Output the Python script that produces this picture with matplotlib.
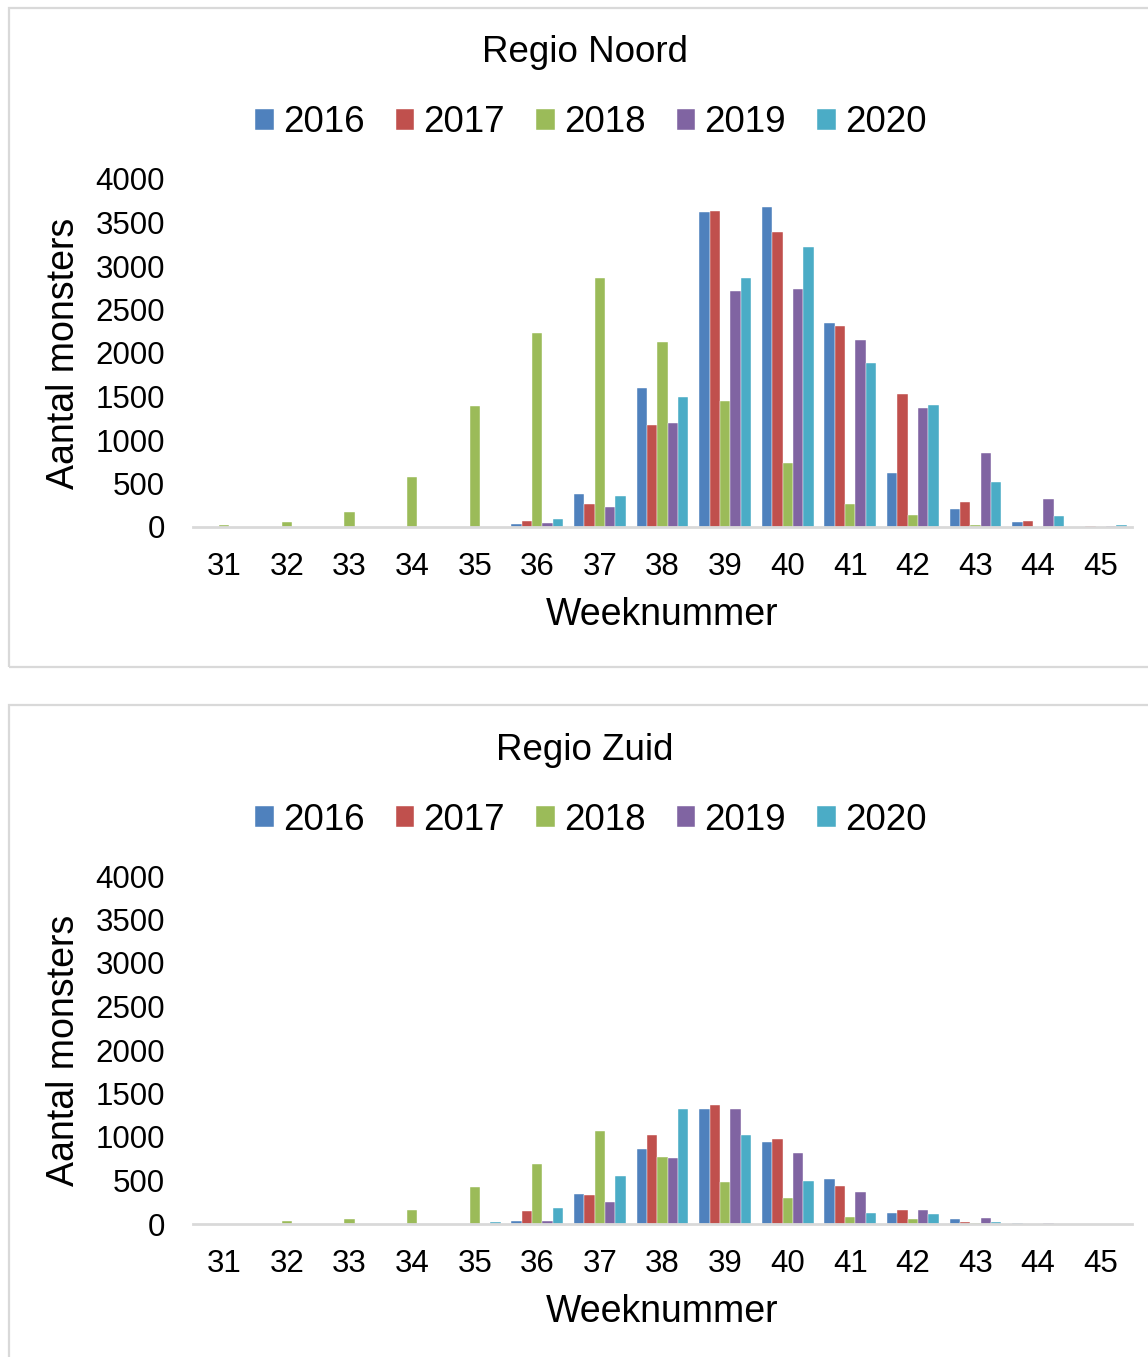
import numpy as np
import matplotlib
matplotlib.use("Agg")
import matplotlib.pyplot as plt
from matplotlib.patches import Rectangle

plt.rcParams['font.family'] = ['Liberation Sans', 'DejaVu Sans']

weeks = [31, 32, 33, 34, 35, 36, 37, 38, 39, 40, 41, 42, 43, 44, 45]
years = ['2016', '2017', '2018', '2019', '2020']
colors = ['#4F81BD', '#C0504D', '#9BBB59', '#8064A2', '#4BACC6']

# Regio Noord
noord_2016 = [0, 0, 0, 0, 0, 35, 375, 1595, 3615, 3675, 2350, 615, 205, 55, 0]
noord_2017 = [0, 0, 0, 0, 0, 65, 260, 1170, 3630, 3395, 2310, 1525, 290, 70, 15]
noord_2018 = [25, 55, 170, 570, 1390, 2235, 2865, 2125, 1450, 740, 265, 140, 25, 0, 0]
noord_2019 = [0, 0, 0, 0, 0, 50, 225, 1200, 2715, 2730, 2145, 1365, 850, 325, 12]
noord_2020 = [0, 0, 0, 0, 0, 95, 355, 1490, 2860, 3220, 1890, 1400, 515, 125, 25]

# Regio Zuid
zuid_2016 = [0, 0, 0, 0, 0, 30, 345, 860, 1320, 940, 515, 130, 57, 15, 0]
zuid_2017 = [0, 0, 0, 0, 0, 155, 330, 1025, 1365, 975, 440, 160, 27, 0, 0]
zuid_2018 = [0, 35, 62, 165, 430, 695, 1065, 775, 480, 300, 85, 57, 15, 0, 0]
zuid_2019 = [0, 0, 0, 0, 0, 30, 255, 755, 1320, 820, 365, 160, 72, 15, 0]
zuid_2020 = [0, 0, 0, 0, 20, 180, 550, 1320, 1025, 490, 130, 118, 27, 0, 0]

W, H = 1148, 1357
fig = plt.figure(figsize=(W / 100, H / 100), dpi=100)


def px_rect(x0, y0, x1, y1):
    return [x0 / W, 1 - y1 / H, (x1 - x0) / W, (y1 - y0) / H]


# panel borders
for y0, y1 in [(8, 667), (705, 1365)]:
    fig.patches.append(Rectangle((9 / W, 1 - y1 / H), (W + 20) / W, (y1 - y0) / H,
                                 transform=fig.transFigure, fill=False,
                                 edgecolor='#D9D9D9', linewidth=1.6, clip_on=False))

panels = [
    ('Regio Noord', [noord_2016, noord_2017, noord_2018, noord_2019, noord_2020], 0),
    ('Regio Zuid', [zuid_2016, zuid_2017, zuid_2018, zuid_2019, zuid_2020], 697),
]

w = 0.165
x = np.array(weeks)
for title, series, dy in panels:
    ax = fig.add_axes(px_rect(193, 179 + dy, 1132, 527 + dy))
    for i, (vals, c, yr) in enumerate(zip(series, colors, years)):
        ax.bar(x + (i - 2) * w, vals, width=w, color=c, edgecolor='white',
               linewidth=0.3, label=yr)
    ax.set_xlim(30.5, 45.5)
    ax.set_ylim(0, 4000)
    ax.set_yticks(np.arange(0, 4001, 500))
    ax.set_xticks(weeks)
    for s in ['top', 'right', 'left']:
        ax.spines[s].set_visible(False)
    ax.spines['bottom'].set_color('#D9D9D9')
    ax.spines['bottom'].set_linewidth(2)
    ax.tick_params(axis='y', length=0, pad=20, labelsize=22.5)
    ax.tick_params(axis='x', length=0, pad=18, labelsize=22.5)
    ax.set_ylabel('Aantal monsters', fontsize=27, labelpad=10)
    ax.set_xlabel('Weeknummer', fontsize=27, labelpad=11)
    fig.text(585 / W, 1 - (53 + dy) / H, title, fontsize=26.5, ha='center', va='center')
    ax.legend(loc='center', bbox_to_anchor=(591 / W, 1 - (123 + dy) / H),
              bbox_transform=fig.transFigure, ncol=5, frameon=False, fontsize=26.5,
              handlelength=0.5, handleheight=0.5, handletextpad=0.25,
              columnspacing=0.85, borderpad=0)

fig.savefig('out.png', dpi=100)
